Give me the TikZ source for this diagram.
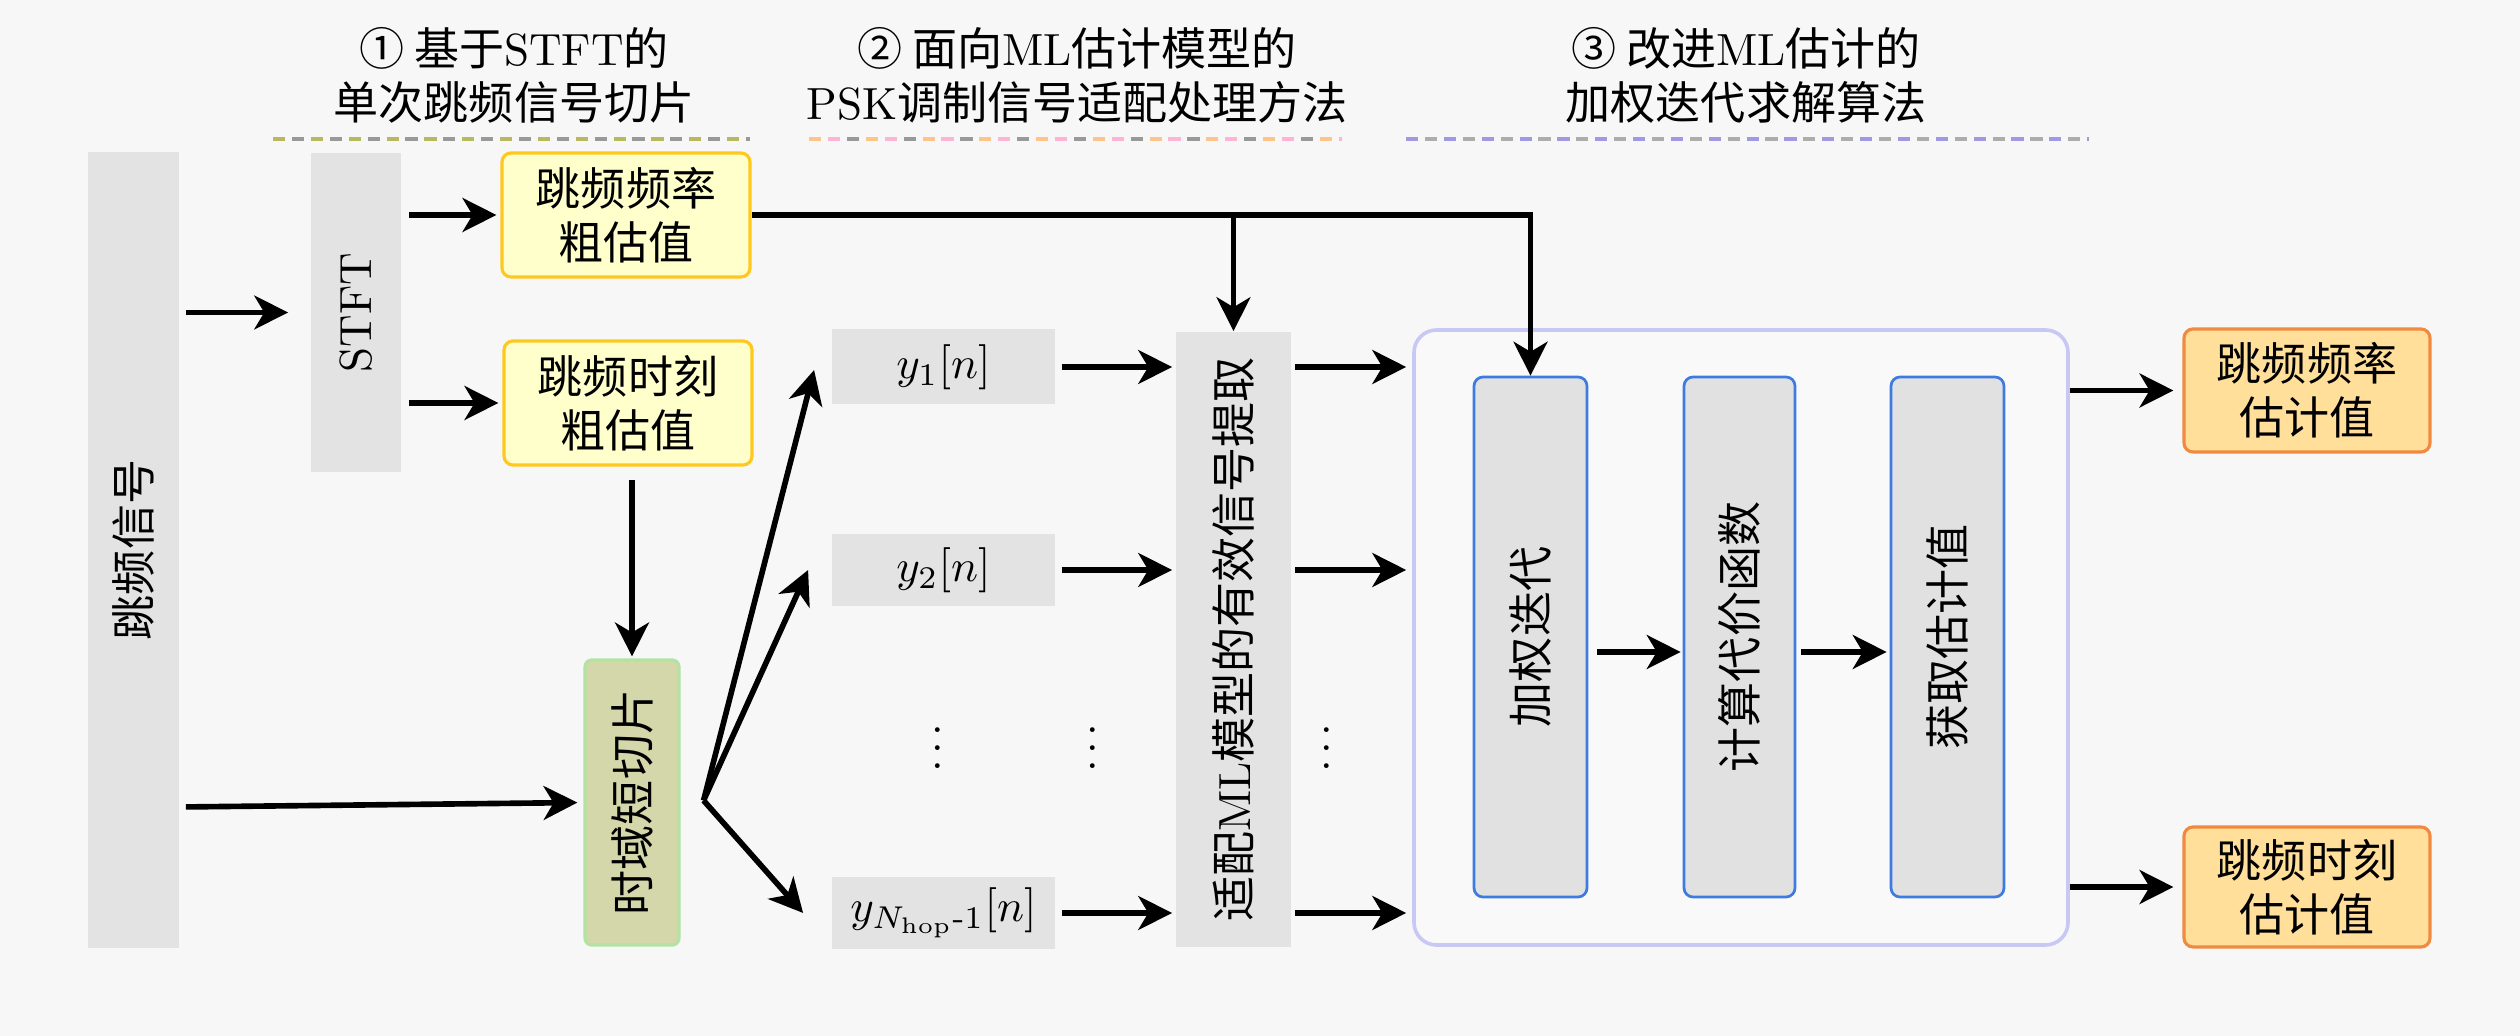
\documentclass[tikz,border=0pt]{standalone}
\usepackage{fontspec}
\usepackage{amsmath}
\usepackage{graphicx}
\newfontfamily\cjk{Noto Sans CJK SC}
\newcommand\zh[1]{{\cjk #1}}
\usetikzlibrary{arrows.meta,calc}
\def\u{0.222pt}
\definecolor{bgc}{HTML}{F7F7F7}
\definecolor{boxgray}{HTML}{E3E3E3}
\definecolor{yfill}{HTML}{FFFFCC}
\definecolor{yedge}{HTML}{FFC81E}
\definecolor{gfill}{HTML}{D3D7A9}
\definecolor{gedge}{HTML}{B3E3A3}
\definecolor{infill}{HTML}{E1E1E1}
\definecolor{inedge}{HTML}{3D7BE0}
\definecolor{bigfill}{HTML}{F9F9F9}
\definecolor{bigedge}{HTML}{C8C8F5}
\definecolor{ofill}{HTML}{FFDF9A}
\definecolor{oedge}{HTML}{F08A40}
\definecolor{dolive}{HTML}{B8B860}
\definecolor{dgray}{HTML}{999999}
\definecolor{dorange}{HTML}{FFC48A}
\definecolor{dpink}{HTML}{FFB4D4}
\definecolor{dpurple}{HTML}{A098E0}
\begin{document}
\begin{tikzpicture}[x=\u,y=-\u,
  every node/.style={font=\fontsize{10}{12}\selectfont},
  arr/.style={-{Stealth[length=7.5pt,width=7.5pt,inset=2.2pt]}, line width=1.25pt, black},
  graybox/.style={fill=boxgray, draw=none, inner sep=0pt},
  ybox/.style={fill=yfill, draw=yedge, line width=0.7pt, rounded corners=2pt, align=center, inner sep=0pt},
  gbox/.style={fill=gfill, draw=gedge, line width=0.7pt, rounded corners=1.5pt, inner sep=0pt},
  inbox/.style={fill=infill, draw=inedge, line width=0.6pt, rounded corners=2pt, inner sep=0pt},
  bigbox/.style={fill=bigfill, draw=bigedge, line width=0.8pt, rounded corners=5pt, inner sep=0pt},
  obox/.style={fill=ofill, draw=oedge, line width=0.7pt, rounded corners=2pt, align=center, inner sep=0pt},
  hdr/.style={align=center, inner sep=0pt},
  dl/.style={line width=0.75pt}
]
\fill[bgc] (0,0) rectangle (2520,1036);
\useasboundingbox (0,0) rectangle (2520,1036);

% headers
\node[hdr] (h1) at (514,75) {\zh{① 基于}STFT\zh{的}\\\zh{单次跳频信号切片}};
\node[hdr] (h2) at (1077,75) {\zh{② 面向}ML\zh{估计模型的}\\PSK\zh{调制信号适配处理方法}};
\node[hdr] (h3) at (1746,75) {\zh{③ 改进}ML\zh{估计的}\\\zh{加权迭代求解算法}};

% dashed separators
\draw[dl, dolive, dash pattern=on 2.7pt off 5.7pt] (273,139) -- (750,139);
\draw[dl, dgray, dash pattern=on 2.7pt off 5.7pt, dash phase=4.2pt] (273,139) -- (750,139);
\draw[dl, dorange, dash pattern=on 2.7pt off 9.9pt] (809,139) -- (1342,139);
\draw[dl, dgray, dash pattern=on 2.7pt off 9.9pt, dash phase=4.2pt] (809,139) -- (1342,139);
\draw[dl, dpink, dash pattern=on 2.7pt off 9.9pt, dash phase=8.4pt] (809,139) -- (1342,139);
\draw[dl, dpurple, dash pattern=on 2.7pt off 5.7pt] (1406,139) -- (2089,139);
\draw[dl, dgray!80, dash pattern=on 2.7pt off 5.7pt, dash phase=4.2pt] (1406,139) -- (2089,139);

% boxes
\node[graybox, minimum width=91*\u, minimum height=796*\u] (sig) at (133.5,550) {\rotatebox{90}{\zh{跳频信号}}};
\node[graybox, minimum width=90*\u, minimum height=319*\u] (stft) at (356,312.5) {\rotatebox{90}{STFT}};
\node[ybox, minimum width=248*\u, minimum height=124*\u] (f1) at (626,215) {\zh{跳频频率}\\\zh{粗估值}};
\node[ybox, minimum width=248*\u, minimum height=124*\u] (t1) at (628,403) {\zh{跳频时刻}\\\zh{粗估值}};
\node[gbox, minimum width=94*\u, minimum height=285*\u] (slice) at (632,802.5) {\rotatebox{90}{\zh{时域短切片}}};

\node[graybox, minimum width=223*\u, minimum height=75*\u] (y1) at (943.5,367) {$y_1[n]$};
\node[graybox, minimum width=223*\u, minimum height=72*\u] (y2) at (943.5,570) {$y_2[n]$};
\node[graybox, minimum width=223*\u, minimum height=72*\u] (yN) at (943.5,913) {$y_{N_{\mathrm{hop}}\text{-}1}[n]$};

\node[graybox, minimum width=115*\u, minimum height=615*\u] (adapt) at (1233.5,639.5) {\rotatebox{90}{\zh{适配}ML\zh{模型的有效信号提取}}};

\node[bigbox, minimum width=654*\u, minimum height=615*\u] (big) at (1741,637.5) {};
\node[inbox, minimum width=113*\u, minimum height=520*\u] (w1) at (1530.5,637) {\rotatebox{90}{\zh{加权迭代}}};
\node[inbox, minimum width=111*\u, minimum height=520*\u] (w2) at (1739.5,637) {\rotatebox{90}{\zh{计算代价函数}}};
\node[inbox, minimum width=113*\u, minimum height=520*\u] (w3) at (1947.5,637) {\rotatebox{90}{\zh{获取估计值}}};

\node[obox, minimum width=246*\u, minimum height=123*\u] (o1) at (2307,390.5) {\zh{跳频频率}\\\zh{估计值}};
\node[obox, minimum width=246*\u, minimum height=120*\u] (o2) at (2307,887) {\zh{跳频时刻}\\\zh{估计值}};

% dots
\node (d1) at (938,735) {$\vdots$};
\node (d2) at (1093,735) {$\vdots$};
\node (d3) at (1327,735) {$\vdots$};

% connectors
\draw[arr, shorten <=6*\u, shorten >=22*\u] (sig.east |- stft.west) -- (stft.west);
\draw[arr, shorten <=6*\u, shorten >=6*\u] ([yshift=-1pt]sig.east |- slice.west) -- (slice.west);
\draw[arr, shorten <=7*\u, shorten >=4*\u] (stft.east |- f1.west) -- (f1.west);
\draw[arr, shorten <=7*\u, shorten >=4*\u] (stft.east |- t1.west) -- (t1.west);
\draw[arr, shorten <=13*\u, shorten >=2*\u] (t1.south -| slice.north) -- (slice.north);

\draw[arr] (f1.east) -- (f1.east -| w1.north) -- (w1.north);
\draw[arr] (f1.east -| adapt.north) -- (adapt.north);

\coordinate (fan) at ($(slice.east)+(23,-2)$);
\draw[arr] (fan) -- ($(y1.west)+(-17,3)$);
\draw[arr] (fan) -- ($(y2.west)+(-23,0)$);
\draw[arr] (fan) -- ($(yN.west)+(-28,0)$);

\foreach \n in {y1,y2,yN}{
  \draw[arr, shorten <=6*\u, shorten >=3*\u] (\n.east) -- (\n.east -| adapt.west);
  \draw[arr, shorten <=3*\u, shorten >=6*\u] (adapt.east |- \n.east) -- (big.west |- \n.east);
}

\draw[arr, shorten <=9*\u, shorten >=2*\u] ([yshift=-15*\u]w1.east) -- ([yshift=-15*\u]w2.west);
\draw[arr, shorten <=5*\u, shorten >=3*\u] ([yshift=-15*\u]w2.east) -- ([yshift=-15*\u]w3.west);

\draw[arr, shorten >=9*\u] (big.east |- o1.west) -- (o1.west);
\draw[arr, shorten >=9*\u] (big.east |- o2.west) -- (o2.west);
\end{tikzpicture}
\end{document}
